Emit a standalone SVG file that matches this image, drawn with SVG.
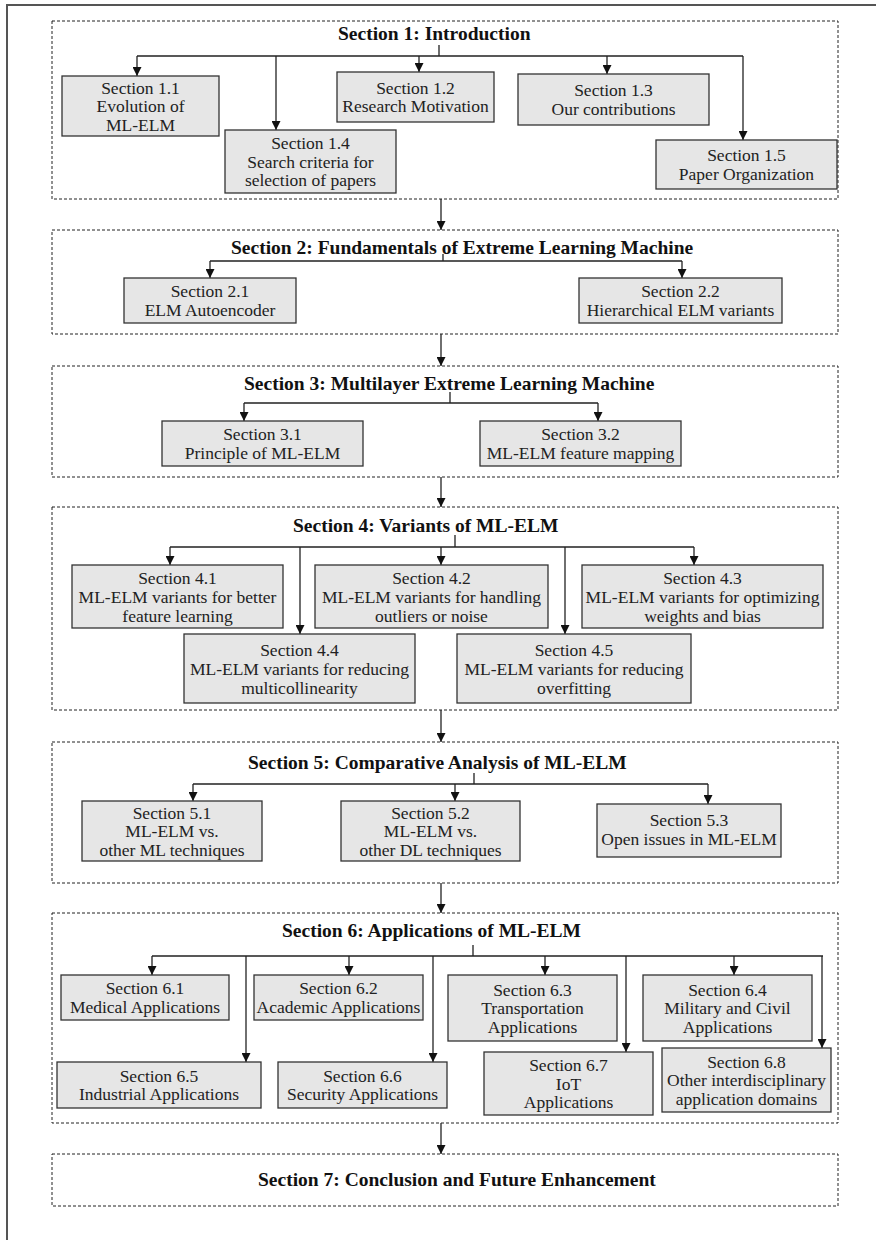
<svg xmlns="http://www.w3.org/2000/svg" width="876" height="1240" viewBox="0 0 876 1240">
  <style>
    .frame { fill: none; stroke: #555; stroke-width: 2; }
    .sec { fill: none; stroke: #222; stroke-width: 1; stroke-dasharray: 3 2; }
    .box { fill: #e6e6e6; stroke: #333; stroke-width: 1.3; }
    .title { font-family: "Liberation Serif", "Times New Roman", serif; font-weight: bold; font-size: 19.5px; fill: #111; }
    .lbl { font-family: "Liberation Serif", "Times New Roman", serif; font-size: 17.5px; fill: #222; text-anchor: middle; }
    .wire { fill: none; stroke: #222; stroke-width: 1.3; }
    .arrow { fill: none; stroke: #222; stroke-width: 1.3; marker-end: url(#head); }
  </style>
  <defs>
    <marker id="head" viewBox="0 0 10 10" refX="10" refY="5" markerWidth="10" markerHeight="9" markerUnits="userSpaceOnUse" orient="auto">
      <path d="M0,0 L10,5 L0,10 z" fill="#111"/>
    </marker>
  </defs>

  <rect width="876" height="1240" fill="#fff"/>
  <!-- page frame (top and left rule) -->
  <path class="frame" d="M7,1240 V5 H876"/>

  <!-- section containers -->
  <g id="section1">
    <rect class="sec" x="52" y="21" width="786" height="178"/>
    <text class="title" x="338" y="40">Section 1: Introduction</text>
  </g>
  <g id="section2">
    <rect class="sec" x="52" y="230" width="786" height="104"/>
    <text class="title" x="231" y="254">Section 2: Fundamentals of Extreme Learning Machine</text>
  </g>
  <g id="section3">
    <rect class="sec" x="52" y="366" width="786" height="111"/>
    <text class="title" x="244" y="390">Section 3: Multilayer Extreme Learning Machine</text>
  </g>
  <g id="section4">
    <rect class="sec" x="52" y="507" width="786" height="203"/>
    <text class="title" x="293" y="532">Section 4: Variants of ML-ELM</text>
  </g>
  <g id="section5">
    <rect class="sec" x="52" y="742" width="786" height="141"/>
    <text class="title" x="248" y="769">Section 5: Comparative Analysis of ML-ELM</text>
  </g>
  <g id="section6">
    <rect class="sec" x="52" y="913" width="786" height="210"/>
    <text class="title" x="282" y="937">Section 6: Applications of ML-ELM</text>
  </g>
  <g id="section7">
    <rect class="sec" x="52" y="1154" width="786" height="52"/>
    <text class="title" x="258" y="1186">Section 7: Conclusion and Future Enhancement</text>
  </g>

  <!-- connectors -->
  <g id="connectors">
    <!-- between sections -->
    <line class="arrow" x1="441" y1="199" x2="441" y2="230"/>
    <line class="arrow" x1="441" y1="334" x2="441" y2="366"/>
    <line class="arrow" x1="441" y1="477" x2="441" y2="507"/>
    <line class="arrow" x1="441" y1="710" x2="441" y2="742"/>
    <line class="arrow" x1="441" y1="883" x2="441" y2="913"/>
    <line class="arrow" x1="441" y1="1123" x2="441" y2="1154"/>

    <!-- section 1 -->
    <path class="wire" d="M439,45 V56 M137,56 H743"/>
    <line class="arrow" x1="137" y1="56" x2="137" y2="76"/>
    <line class="arrow" x1="276" y1="56" x2="276" y2="130"/>
    <line class="arrow" x1="419" y1="56" x2="419" y2="72"/>
    <line class="arrow" x1="607" y1="56" x2="607" y2="74"/>
    <line class="arrow" x1="743" y1="56" x2="743" y2="140"/>

    <!-- section 2 -->
    <path class="wire" d="M443,254 V261 M210,261 H682"/>
    <line class="arrow" x1="210" y1="261" x2="210" y2="278"/>
    <line class="arrow" x1="682" y1="261" x2="682" y2="278"/>

    <!-- section 3 -->
    <path class="wire" d="M450,392 V403 M244,403 H598"/>
    <line class="arrow" x1="244" y1="403" x2="244" y2="421"/>
    <line class="arrow" x1="598" y1="403" x2="598" y2="421"/>

    <!-- section 4 -->
    <path class="wire" d="M455,535 V547 M170,547 H694"/>
    <line class="arrow" x1="170" y1="547" x2="170" y2="565"/>
    <line class="arrow" x1="300" y1="547" x2="300" y2="634"/>
    <line class="arrow" x1="441" y1="547" x2="441" y2="565"/>
    <line class="arrow" x1="565" y1="547" x2="565" y2="634"/>
    <line class="arrow" x1="694" y1="547" x2="694" y2="565"/>

    <!-- section 5 -->
    <path class="wire" d="M474,773 V784 M193,784 H708"/>
    <line class="arrow" x1="193" y1="784" x2="193" y2="801"/>
    <line class="arrow" x1="455" y1="784" x2="455" y2="801"/>
    <line class="arrow" x1="708" y1="784" x2="708" y2="804"/>

    <!-- section 6 -->
    <path class="wire" d="M473,945 V956 M152,956 H823"/>
    <line class="arrow" x1="152" y1="956" x2="152" y2="975"/>
    <line class="arrow" x1="246" y1="956" x2="246" y2="1062"/>
    <line class="arrow" x1="349" y1="956" x2="349" y2="975"/>
    <line class="arrow" x1="433" y1="956" x2="433" y2="1062"/>
    <line class="arrow" x1="545" y1="956" x2="545" y2="975"/>
    <line class="arrow" x1="626" y1="956" x2="626" y2="1052"/>
    <line class="arrow" x1="734" y1="956" x2="734" y2="975"/>
    <line class="arrow" x1="822" y1="956" x2="822" y2="1048"/>
  </g>

  <!-- section 1 nodes -->
  <g id="s1_1">
    <rect class="box" x="62" y="76" width="157" height="60"/>
    <text class="lbl" x="140.5" y="93.5">Section 1.1</text>
    <text class="lbl" x="140.5" y="112">Evolution of</text>
    <text class="lbl" x="140.5" y="130.5">ML-ELM</text>
  </g>
  <g id="s1_2">
    <rect class="box" x="337" y="72" width="157" height="50"/>
    <text class="lbl" x="415.5" y="93.75">Section 1.2</text>
    <text class="lbl" x="415.5" y="112.25">Research Motivation</text>
  </g>
  <g id="s1_3">
    <rect class="box" x="518" y="74" width="191" height="51"/>
    <text class="lbl" x="613.5" y="96.25">Section 1.3</text>
    <text class="lbl" x="613.5" y="114.75">Our contributions</text>
  </g>
  <g id="s1_4">
    <rect class="box" x="225" y="130" width="171" height="63"/>
    <text class="lbl" x="310.5" y="149">Section 1.4</text>
    <text class="lbl" x="310.5" y="167.5">Search criteria for</text>
    <text class="lbl" x="310.5" y="186">selection of papers</text>
  </g>
  <g id="s1_5">
    <rect class="box" x="656" y="140" width="181" height="49"/>
    <text class="lbl" x="746.5" y="161.25">Section 1.5</text>
    <text class="lbl" x="746.5" y="179.75">Paper Organization</text>
  </g>

  <!-- section 2 nodes -->
  <g id="s2_1">
    <rect class="box" x="124" y="278" width="172" height="45"/>
    <text class="lbl" x="210" y="297.25">Section 2.1</text>
    <text class="lbl" x="210" y="315.75">ELM Autoencoder</text>
  </g>
  <g id="s2_2">
    <rect class="box" x="579" y="278" width="203" height="45"/>
    <text class="lbl" x="680.5" y="297.25">Section 2.2</text>
    <text class="lbl" x="680.5" y="315.75">Hierarchical ELM variants</text>
  </g>

  <!-- section 3 nodes -->
  <g id="s3_1">
    <rect class="box" x="162" y="421" width="201" height="45"/>
    <text class="lbl" x="262.5" y="440.25">Section 3.1</text>
    <text class="lbl" x="262.5" y="458.75">Principle of ML-ELM</text>
  </g>
  <g id="s3_2">
    <rect class="box" x="480" y="421" width="201" height="45"/>
    <text class="lbl" x="580.5" y="440.25">Section 3.2</text>
    <text class="lbl" x="580.5" y="458.75">ML-ELM feature mapping</text>
  </g>

  <!-- section 4 nodes -->
  <g id="s4_1">
    <rect class="box" x="72" y="565" width="211" height="63"/>
    <text class="lbl" x="177.5" y="583.5">Section 4.1</text>
    <text class="lbl" x="177.5" y="602.5">ML-ELM variants for better</text>
    <text class="lbl" x="177.5" y="621.5">feature learning</text>
  </g>
  <g id="s4_2">
    <rect class="box" x="315" y="565" width="233" height="63"/>
    <text class="lbl" x="431.5" y="583.5">Section 4.2</text>
    <text class="lbl" x="431.5" y="602.5">ML-ELM variants for handling</text>
    <text class="lbl" x="431.5" y="621.5">outliers or noise</text>
  </g>
  <g id="s4_3">
    <rect class="box" x="582" y="565" width="241" height="63"/>
    <text class="lbl" x="702.5" y="583.5">Section 4.3</text>
    <text class="lbl" x="702.5" y="602.5">ML-ELM variants for optimizing</text>
    <text class="lbl" x="702.5" y="621.5">weights and bias</text>
  </g>
  <g id="s4_4">
    <rect class="box" x="184" y="634" width="231" height="69"/>
    <text class="lbl" x="299.5" y="655.5">Section 4.4</text>
    <text class="lbl" x="299.5" y="674.5">ML-ELM variants for reducing</text>
    <text class="lbl" x="299.5" y="693.5">multicollinearity</text>
  </g>
  <g id="s4_5">
    <rect class="box" x="457" y="634" width="234" height="69"/>
    <text class="lbl" x="574" y="655.5">Section 4.5</text>
    <text class="lbl" x="574" y="674.5">ML-ELM variants for reducing</text>
    <text class="lbl" x="574" y="693.5">overfitting</text>
  </g>

  <!-- section 5 nodes -->
  <g id="s5_1">
    <rect class="box" x="82" y="801" width="180" height="60"/>
    <text class="lbl" x="172" y="818.5">Section 5.1</text>
    <text class="lbl" x="172" y="837">ML-ELM vs.</text>
    <text class="lbl" x="172" y="855.5">other ML techniques</text>
  </g>
  <g id="s5_2">
    <rect class="box" x="341" y="801" width="179" height="60"/>
    <text class="lbl" x="430.5" y="818.5">Section 5.2</text>
    <text class="lbl" x="430.5" y="837">ML-ELM vs.</text>
    <text class="lbl" x="430.5" y="855.5">other DL techniques</text>
  </g>
  <g id="s5_3">
    <rect class="box" x="597" y="804" width="184" height="53"/>
    <text class="lbl" x="689" y="826">Section 5.3</text>
    <text class="lbl" x="689" y="844.5">Open issues in ML-ELM</text>
  </g>

  <!-- section 6 nodes -->
  <g id="s6_1">
    <rect class="box" x="61" y="975" width="168" height="45"/>
    <text class="lbl" x="145" y="994.25">Section 6.1</text>
    <text class="lbl" x="145" y="1012.75">Medical Applications</text>
  </g>
  <g id="s6_2">
    <rect class="box" x="254" y="975" width="169" height="45"/>
    <text class="lbl" x="338.5" y="994.25">Section 6.2</text>
    <text class="lbl" x="338.5" y="1012.75">Academic Applications</text>
  </g>
  <g id="s6_3">
    <rect class="box" x="448" y="975" width="169" height="66"/>
    <text class="lbl" x="532.5" y="995.5">Section 6.3</text>
    <text class="lbl" x="532.5" y="1014">Transportation</text>
    <text class="lbl" x="532.5" y="1032.5">Applications</text>
  </g>
  <g id="s6_4">
    <rect class="box" x="643" y="975" width="169" height="66"/>
    <text class="lbl" x="727.5" y="995.5">Section 6.4</text>
    <text class="lbl" x="727.5" y="1014">Military and Civil</text>
    <text class="lbl" x="727.5" y="1032.5">Applications</text>
  </g>
  <g id="s6_5">
    <rect class="box" x="57" y="1062" width="204" height="46"/>
    <text class="lbl" x="159" y="1081.75">Section 6.5</text>
    <text class="lbl" x="159" y="1100.25">Industrial Applications</text>
  </g>
  <g id="s6_6">
    <rect class="box" x="278" y="1062" width="169" height="46"/>
    <text class="lbl" x="362.5" y="1081.75">Section 6.6</text>
    <text class="lbl" x="362.5" y="1100.25">Security Applications</text>
  </g>
  <g id="s6_7">
    <rect class="box" x="484" y="1052" width="169" height="63"/>
    <text class="lbl" x="568.5" y="1071">Section 6.7</text>
    <text class="lbl" x="568.5" y="1089.5">IoT</text>
    <text class="lbl" x="568.5" y="1108">Applications</text>
  </g>
  <g id="s6_8">
    <rect class="box" x="662" y="1048" width="169" height="64"/>
    <text class="lbl" x="746.5" y="1067.5">Section 6.8</text>
    <text class="lbl" x="746.5" y="1086">Other interdisciplinary</text>
    <text class="lbl" x="746.5" y="1104.5">application domains</text>
  </g>
</svg>
